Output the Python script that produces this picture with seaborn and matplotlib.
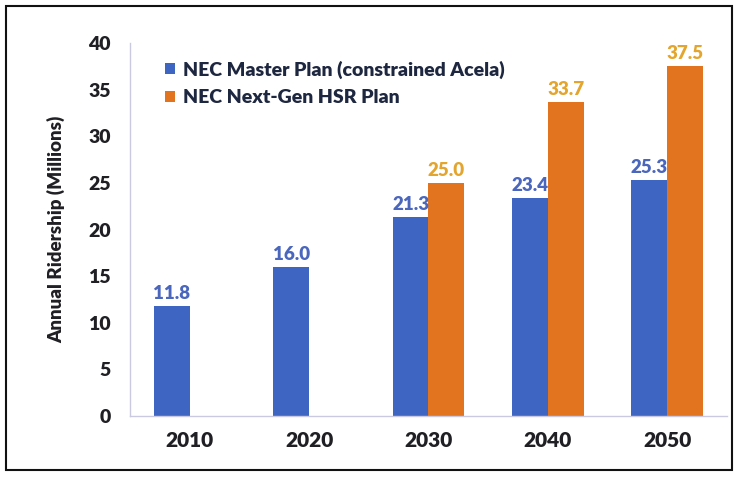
import matplotlib
matplotlib.use('Agg')
import matplotlib.pyplot as plt
import seaborn as sns
import pandas as pd
from matplotlib.patches import Rectangle

years = ['2010', '2020', '2030', '2040', '2050']
master_plan = [11.8, 16.0, 21.3, 23.4, 25.3]
nextgen_years = ['2030', '2040', '2050']
nextgen_plan = [25.0, 33.7, 37.5]
series_names = ['NEC Master Plan (constrained Acela)', 'NEC Next-Gen HSR Plan']

azul = '#3F65C3'
laranja = '#E2741F'
azul_texto = '#4A66BD'
laranja_texto = '#E3A52E'
escuro = '#202024'

df = pd.concat([
    pd.DataFrame({'Ano': years, 'Ridership': master_plan, 'Plano': series_names[0]}),
    pd.DataFrame({'Ano': nextgen_years, 'Ridership': nextgen_plan, 'Plano': series_names[1]}),
])

sns.set_style('white')
plt.rcParams['font.family'] = ['Lato', 'DejaVu Sans']
peso = 'heavy'

fig = plt.figure(figsize=(7.37, 4.80), dpi=100)
ax = fig.add_axes([0.1764, 0.1333, 0.81, 0.7771])

sns.barplot(data=df, x='Ano', y='Ridership', hue='Plano', order=years,
            hue_order=series_names, palette=[azul, laranja], width=0.6,
            saturation=1, edgecolor='none', ax=ax)

for cont, cor in zip(ax.containers, [azul_texto, laranja_texto]):
    ax.bar_label(cont, fmt='%.1f', padding=3, fontsize=13.5, fontweight=peso, color=cor)

ax.set_ylim(0, 40)
ax.set_yticks(range(0, 41, 5))
ax.set_xlim(-0.5, 4.5)
ax.set_xlabel('')
ax.set_ylabel('Annual Ridership (Millions)', fontsize=13.5, fontweight=peso, color=escuro, labelpad=16)

for lado in ['top', 'right']:
    ax.spines[lado].set_visible(False)
for lado in ['left', 'bottom']:
    ax.spines[lado].set_color('#C9CAE2')
    ax.spines[lado].set_linewidth(1)

ax.tick_params(axis='y', length=4, color='#C9CAE2', labelsize=14, labelcolor=escuro, pad=10)
ax.tick_params(axis='x', length=0, labelsize=15, labelcolor=escuro, pad=11)
for lbl in ax.get_xticklabels() + ax.get_yticklabels():
    lbl.set_fontweight(peso)

leg = ax.legend(loc='upper left', bbox_to_anchor=(0.03, 1.0), frameon=False,
                fontsize=14, handlelength=0.5, handleheight=0.5, handletextpad=0.4,
                labelspacing=0.55)
for txt in leg.get_texts():
    txt.set_fontweight(peso)
    txt.set_color('#1E2740')

fig.patches.append(Rectangle((0.008, 0.02), 0.985, 0.968, transform=fig.transFigure,
                             fill=False, edgecolor='#111111', linewidth=1.5))

plt.savefig('out.png', dpi=100)
